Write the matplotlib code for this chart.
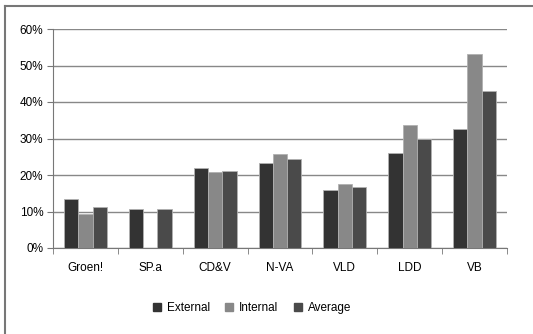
import matplotlib
matplotlib.use("Agg")
import matplotlib.pyplot as plt
import numpy as np
from matplotlib.lines import Line2D

plt.rcParams['font.family'] = ['Liberation Sans', 'DejaVu Sans']

parties = ['Groen!', 'SP.a', 'CD&V', 'N-VA', 'VLD', 'LDD', 'VB']
external = [13.4, 10.8, 21.8, 23.2, 15.9, 26.1, 32.7]
internal = [9.2, 0.0, 20.8, 25.7, 17.5, 33.7, 53.2]
average = [11.1, 10.8, 21.2, 24.3, 16.7, 29.9, 43.0]

series = [('External', external, '#333333'),
          ('Internal', internal, '#888888'),
          ('Average', average, '#4a4a4a')]

fig = plt.figure(figsize=(5.33, 3.34), dpi=100)
ax = fig.add_axes([53/533, 1 - 248/334, 454/533, 219/334])

x = np.arange(len(parties))
w = 0.22
for i, (name, vals, col) in enumerate(series):
    ax.bar(x + (i - 1) * w, vals, w, color=col, edgecolor='#b0b0b0', linewidth=0.6,
           label=name, zorder=3)

ax.set_xlim(-0.5, len(parties) - 0.5)
ax.set_ylim(0, 60)
ax.set_yticks(range(0, 61, 10))
ax.set_yticklabels([f'{v}%' for v in range(0, 61, 10)])
ax.yaxis.grid(True, color='#888888', linewidth=1.0, zorder=0)
ax.set_xticks(x)
ax.set_xticklabels(parties)
ax.set_xticks(np.arange(-0.5, len(parties)), minor=True)
ax.tick_params(axis='x', which='major', length=0, pad=10, labelsize=8.5)
ax.tick_params(axis='x', which='minor', length=4, color='#777777')
ax.tick_params(axis='y', length=4, color='#777777', labelsize=8.5, pad=3)
for s in ['top', 'right']:
    ax.spines[s].set_visible(False)
ax.spines['left'].set_color('#777777')
ax.spines['bottom'].set_color('#777777')

handles = [Line2D([], [], marker='s', linestyle='none', markersize=6,
                  markerfacecolor=c, markeredgecolor=c) for _, _, c in series]
fig.legend(handles, [s[0] for s in series], loc='center', ncol=3,
           bbox_to_anchor=(252/533, 1 - 308/334), frameon=False, fontsize=8.5,
           handlelength=0.7, handletextpad=0.5, columnspacing=1.3)

# outer frame (cropped at right and bottom)
fig.add_artist(Line2D([5/533, 5/533], [0, 1 - 6/334], transform=fig.transFigure,
                      color='#777777', linewidth=1.5))
fig.add_artist(Line2D([5/533, 1], [1 - 6/334, 1 - 6/334], transform=fig.transFigure,
                      color='#777777', linewidth=1.5))

fig.savefig('out.png', dpi=100)
